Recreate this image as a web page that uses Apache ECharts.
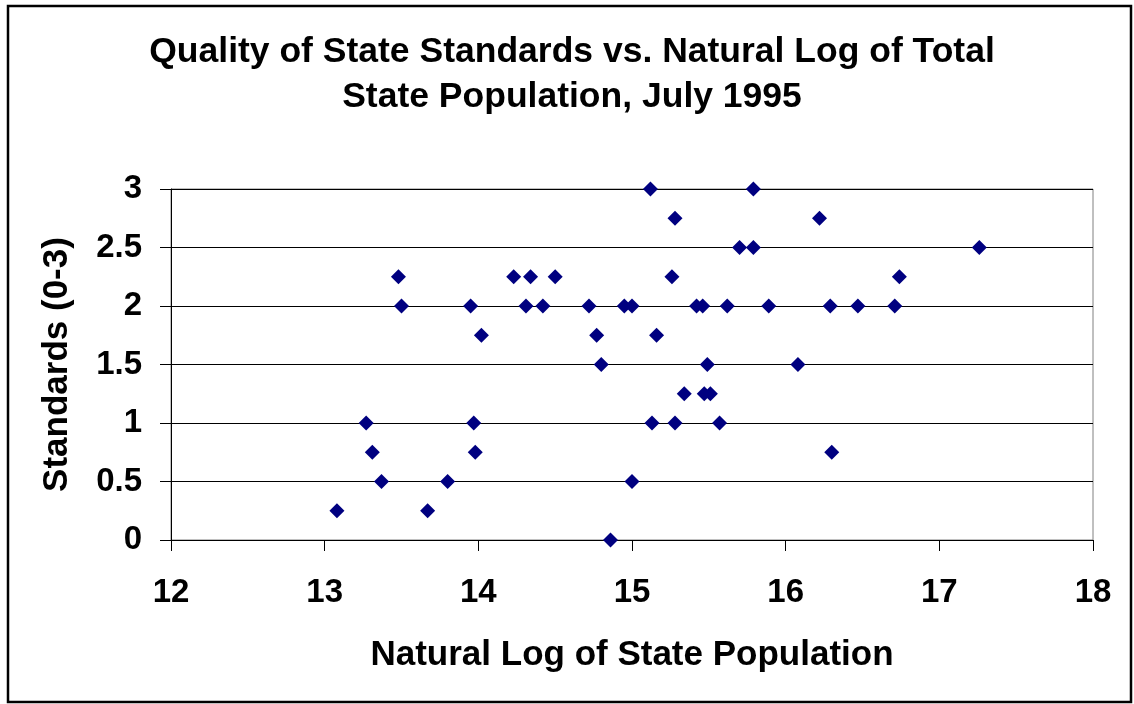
<!DOCTYPE html>
<html>
<head>
<meta charset="utf-8">
<title>Quality of State Standards vs. Natural Log of Total State Population</title>
<script src="https://cdn.jsdelivr.net/npm/echarts@6/dist/echarts.min.js"></script>
<style>
    html, body { margin: 0; padding: 0; background: #fff; }
    #chart { width: 1134px; height: 704px; }
</style>
</head>
<body>
<div id="chart"></div>
<script>
    // natural log of state population, July 1995
    var lnPop = [
        13.08, 13.67, 13.27, 13.31, 13.37, 13.80, 13.48, 13.50, 13.95, 14.02,
        13.97, 13.98, 15.12, 15.79, 15.28, 15.70, 15.79, 14.23, 14.34, 14.50,
        15.26, 14.31, 14.42, 14.72, 14.95, 15.00, 15.42, 15.46, 15.62, 15.89,
        14.77, 15.16, 14.80, 15.49, 16.08, 15.34, 15.47, 15.51, 15.13, 15.28,
        15.57, 15.00, 14.86, 16.22, 17.26, 16.74, 16.29, 16.47, 16.71, 16.30
    ];
    // quality of state standards (0-3)
    var standards = [
        0.25, 0.25, 1, 0.75, 0.5, 0.5, 2.25, 2, 2, 1.75,
        1, 0.75, 3, 3, 2.75, 2.5, 2.5, 2.25, 2.25, 2.25,
        2.25, 2, 2, 2, 2, 2, 2, 2, 2, 2,
        1.75, 1.75, 1.5, 1.5, 1.5, 1.25, 1.25, 1.25, 1, 1,
        1, 0.5, 0, 2.75, 2.5, 2.25, 2, 2, 2, 0.75
    ];
    var xTicks = [12, 13, 14, 15, 16, 17, 18];
    var yTicks = [0, 0.5, 1, 1.5, 2, 2.5, 3];

    var points = lnPop.map(function (x, i) {
        return [x, standards[i]];
    });

    var font = "'Liberation Sans', Arial, sans-serif";
    var chart = echarts.init(document.getElementById('chart'));

    var option = {
        animation: false,
        backgroundColor: '#fff',
        title: {
            text: 'Quality of State Standards vs. Natural Log of Total\nState Population, July 1995',
            left: 567,
            top: 25,
            textAlign: 'center',
            textStyle: {
                fontFamily: font,
                fontWeight: 'bold',
                fontSize: 35.5,
                lineHeight: 45,
                color: '#000'
            }
        },
        grid: {
            left: 171,
            right: 41,
            top: 189,
            bottom: 164,
            show: true,
            borderColor: '#808080',
            borderWidth: 1
        },
        xAxis: {
            type: 'value',
            min: xTicks[0],
            max: xTicks[xTicks.length - 1],
            interval: 1,
            name: 'Natural Log of State Population',
            nameLocation: 'middle',
            nameGap: 98,
            nameTextStyle: {
                fontFamily: font,
                fontWeight: 'bold',
                fontSize: 35,
                color: '#000'
            },
            axisLine: { lineStyle: { color: '#000', width: 1 } },
            axisTick: { show: true, inside: false, length: 11, lineStyle: { color: '#000' } },
            axisLabel: {
                margin: 36,
                fontFamily: font,
                fontWeight: 'bold',
                fontSize: 33,
                color: '#000'
            },
            splitLine: { show: false }
        },
        yAxis: {
            type: 'value',
            min: yTicks[0],
            max: yTicks[yTicks.length - 1],
            interval: 0.5,
            name: 'Standards (0-3)',
            nameLocation: 'middle',
            nameGap: 96,
            nameTextStyle: {
                fontFamily: font,
                fontWeight: 'bold',
                fontSize: 35,
                color: '#000'
            },
            axisLine: { show: true, lineStyle: { color: '#000', width: 1 } },
            axisTick: { show: true, inside: false, length: 11, lineStyle: { color: '#000' } },
            axisLabel: {
                margin: 29,
                fontFamily: font,
                fontWeight: 'bold',
                fontSize: 33,
                color: '#000'
            },
            splitLine: { show: true, lineStyle: { color: '#000', width: 1 } }
        },
        graphic: [{
            type: 'rect',
            shape: { x: 8, y: 6, width: 1123, height: 696 },
            style: { fill: 'none', stroke: '#000', lineWidth: 2.5 },
            silent: true
        }],
        series: [{
            name: 'States',
            type: 'scatter',
            symbol: 'diamond',
            symbolSize: 15,
            itemStyle: { color: '#000080', opacity: 1 },
            data: points
        }]
    };

    chart.setOption(option);
</script>
</body>
</html>
